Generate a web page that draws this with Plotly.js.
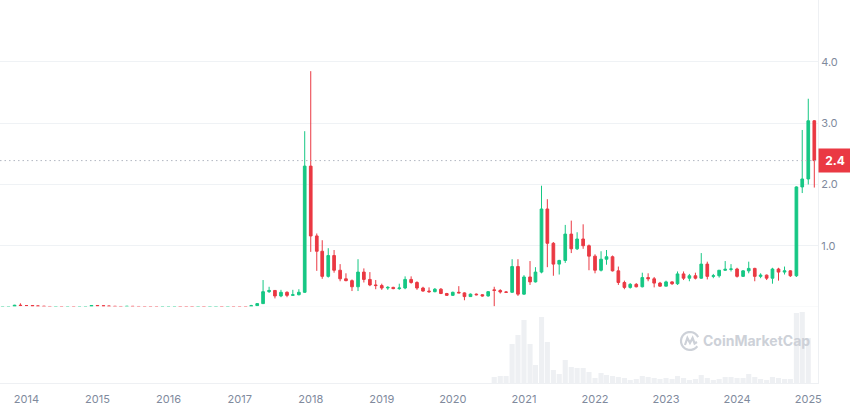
<!DOCTYPE html>
<html><head><meta charset="utf-8">
<script src="https://cdn.plot.ly/plotly-3.0.1.min.js"></script>
<style>html,body{margin:0;padding:0;background:#fff}#chart{width:850px;height:417px}</style>
</head><body><div id="chart"></div>
<script>
// Monthly candles (XRP / USD), CoinMarketCap style
const months = [
 '2013-08','2013-09','2013-10','2013-11','2013-12',
 '2014-01','2014-02','2014-03','2014-04','2014-05','2014-06','2014-07','2014-08','2014-09','2014-10','2014-11','2014-12',
 '2015-01','2015-02','2015-03','2015-04','2015-05','2015-06','2015-07','2015-08','2015-09','2015-10','2015-11','2015-12',
 '2016-01','2016-02','2016-03','2016-04','2016-05','2016-06','2016-07','2016-08','2016-09','2016-10','2016-11','2016-12',
 '2017-01','2017-02','2017-03','2017-04','2017-05','2017-06','2017-07','2017-08','2017-09','2017-10','2017-11','2017-12',
 '2018-01','2018-02','2018-03','2018-04','2018-05','2018-06','2018-07','2018-08','2018-09','2018-10','2018-11','2018-12',
 '2019-01','2019-02','2019-03','2019-04','2019-05','2019-06','2019-07','2019-08','2019-09','2019-10','2019-11','2019-12',
 '2020-01','2020-02','2020-03','2020-04','2020-05','2020-06','2020-07','2020-08','2020-09','2020-10','2020-11','2020-12',
 '2021-01','2021-02','2021-03','2021-04','2021-05','2021-06','2021-07','2021-08','2021-09','2021-10','2021-11','2021-12',
 '2022-01','2022-02','2022-03','2022-04','2022-05','2022-06','2022-07','2022-08','2022-09','2022-10','2022-11','2022-12',
 '2023-01','2023-02','2023-03','2023-04','2023-05','2023-06','2023-07','2023-08','2023-09','2023-10','2023-11','2023-12',
 '2024-01','2024-02','2024-03','2024-04','2024-05','2024-06','2024-07','2024-08','2024-09','2024-10','2024-11','2024-12',
 '2025-01','2025-02'
];
const open = [
 .0056,.0054,.0055,.0070,.0290,
 .0240,.0230,.0170,.0130,.0085,.0055,.0065,.0050,.0052,.0045,.0050,.0070,
 .0245,.0185,.0150,.0110,.0085,.0080,.0105,.0085,.0072,.0068,.0050,.0044,
 .0060,.0062,.0080,.0070,.0066,.0060,.0062,.0058,.0062,.0080,.0072,.0076,
 .0065,.0063,.0058,.0213,.0550,.2500,.2700,.1800,.2400,.1900,.2000,.2400,
 2.30,1.16,.91,.50,.84,.60,.46,.43,.33,.57,.45,.36,
 .35,.31,.32,.30,.31,.45,.40,.31,.26,.25,.29,.22,
 .19,.24,.23,.17,.21,.20,.18,.28,.27,.245,.24,.66,
 .21,.49,.41,.57,1.60,1.04,.70,.76,1.19,.95,1.11,1.00,
 .83,.60,.78,.82,.59,.40,.32,.37,.33,.48,.46,.39,
 .34,.41,.38,.54,.47,.51,.47,.70,.50,.51,.60,.615,
 .62,.50,.59,.63,.50,.52,.47,.62,.57,.59,.51,1.96,
 2.09,3.04
];
const high = [
 .0066,.0062,.0080,.0350,.0600,
 .0280,.0250,.0180,.0140,.0090,.0070,.0070,.0058,.0056,.0052,.0072,.0290,
 .0280,.0190,.0155,.0115,.0100,.0125,.0108,.0090,.0080,.0070,.0052,.0065,
 .0068,.0092,.0092,.0076,.0068,.0066,.0064,.0064,.0090,.0085,.0090,.0080,
 .0070,.0066,.0350,.0600,.4400,.3300,.2750,.2800,.2550,.2800,.2900,2.87,
 3.85,1.20,1.09,.96,.93,.70,.55,.45,.78,.63,.57,.44,
 .38,.34,.33,.38,.50,.50,.42,.33,.32,.31,.31,.23,
 .25,.34,.24,.22,.22,.21,.26,.33,.29,.26,.78,.78,
 .52,.75,.65,1.98,1.76,1.06,.77,1.34,1.41,1.22,1.35,1.02,
 .86,.91,.93,.84,.66,.43,.39,.39,.56,.55,.49,.41,
 .43,.42,.58,.58,.54,.56,.88,.74,.54,.60,.75,.70,
 .64,.60,.74,.64,.55,.53,.64,.64,.66,.60,1.97,2.89,
 3.40,3.05
];
const low = [
 .0045,.0048,.0050,.0065,.0140,
 .0200,.0150,.0120,.0070,.0045,.0050,.0048,.0046,.0043,.0041,.0048,.0068,
 .0160,.0130,.0100,.0080,.0075,.0078,.0080,.0070,.0066,.0045,.0036,.0042,
 .0054,.0060,.0068,.0062,.0056,.0054,.0056,.0055,.0060,.0068,.0070,.0062,
 .0060,.0055,.0050,.0190,.0500,.2300,.1400,.1600,.1600,.1800,.1900,.2300,
 .90,.59,.46,.48,.56,.42,.42,.26,.26,.40,.34,.29,
 .28,.28,.29,.28,.29,.38,.28,.25,.23,.24,.21,.18,
 .18,.23,.11,.17,.19,.17,.17,.01,.22,.23,.23,.18,
 .20,.36,.40,.55,.65,.51,.53,.72,.88,.93,.95,.60,
 .55,.58,.69,.58,.36,.29,.30,.32,.32,.42,.32,.33,
 .34,.36,.36,.44,.42,.45,.46,.45,.47,.48,.59,.58,
 .48,.49,.55,.42,.47,.44,.38,.43,.53,.49,.49,1.86,
 2.00,1.95
];
const close = [
 .0054,.0055,.0070,.0290,.0240,
 .0230,.0170,.0130,.0085,.0055,.0065,.0050,.0052,.0045,.0050,.0070,.0245,
 .0185,.0150,.0110,.0085,.0080,.0105,.0085,.0072,.0068,.0050,.0044,.0060,
 .0062,.0080,.0070,.0066,.0060,.0062,.0058,.0062,.0080,.0072,.0076,.0065,
 .0063,.0058,.0213,.0550,.2500,.2700,.1800,.2400,.1900,.2000,.2400,2.30,
 1.16,.91,.50,.84,.60,.46,.43,.33,.57,.45,.36,.35,
 .31,.32,.30,.31,.45,.40,.31,.26,.25,.29,.22,.19,
 .24,.23,.17,.21,.20,.18,.25,.27,.245,.24,.66,.21,
 .49,.41,.57,1.60,1.04,.70,.76,1.19,.95,1.11,1.00,.83,
 .60,.78,.82,.59,.40,.32,.37,.33,.48,.46,.39,.34,
 .41,.38,.54,.47,.51,.47,.70,.50,.51,.60,.615,.62,
 .50,.59,.63,.50,.52,.47,.62,.57,.59,.51,1.96,2.09,
 3.04,2.39
];
// Monthly volume (USD billions, approx.) shown from Aug 2020
const volMonths = [
 '2020-08','2020-09','2020-10','2020-11','2020-12',
 '2021-01','2021-02','2021-03','2021-04','2021-05','2021-06','2021-07','2021-08','2021-09','2021-10','2021-11','2021-12',
 '2022-01','2022-02','2022-03','2022-04','2022-05','2022-06','2022-07','2022-08','2022-09','2022-10','2022-11','2022-12',
 '2023-01','2023-02','2023-03','2023-04','2023-05','2023-06','2023-07','2023-08','2023-09','2023-10','2023-11','2023-12',
 '2024-01','2024-02','2024-03','2024-04','2024-05','2024-06','2024-07','2024-08','2024-09','2024-10','2024-11','2024-12',
 '2025-01'
];
const volume = [
 30,35,35,195,240,
 315,195,90,330,205,65,45,115,80,75,75,55,
 25,50,40,35,30,25,15,20,35,30,25,20,
 25,20,35,25,15,20,40,25,15,20,30,30,
 25,25,45,30,20,15,30,25,20,20,350,355,
 225
];
const yearTicks = ['2014','2015','2016','2017','2018','2019','2020','2021','2022','2023','2024','2025'];
const priceTicks = [0,1,2,3,4];
const priceTickText = ['','1.0','2.0','3.0','4.0'];

const GREEN = '#16c784', RED = '#ea3943';
const lastClose = close[close.length - 1];

const traces = [
  {type:'bar', x: volMonths.map(m => m + '-01'), y: volume, xaxis:'x', yaxis:'y2',
   marker:{color:'#eef0f3', line:{width:0}}, hoverinfo:'skip'},
  {type:'candlestick', x: months.map(m => m + '-01'), open, high, low, close,
   xaxis:'x', yaxis:'y',
   increasing:{line:{color:GREEN, width:1}, fillcolor:GREEN},
   decreasing:{line:{color:RED, width:1}, fillcolor:RED},
   whiskerwidth:0, hoverinfo:'skip'}
];

// CoinMarketCap logo outline (pixel path)
let logo = '';
for (let a = 25; a <= 330; a += 15) {
  const r = a * Math.PI / 180;
  logo += (a === 25 ? 'M' : 'L') + (9 * Math.cos(r)).toFixed(2) + ',' + (9 * Math.sin(r)).toFixed(2) + ' ';
}
logo += 'M-5,-4 L-2.6,3 L0,-2 L2.6,3 L4.6,-2.5 L7,-1';

const layout = {
  width:850, height:417,
  margin:{l:0, r:32, t:0, b:34},
  paper_bgcolor:'#ffffff', plot_bgcolor:'#ffffff',
  showlegend:false, bargap:0.06,
  font:{family:'Inter, "Noto Sans", sans-serif', color:'#808a9d'},
  xaxis:{type:'date', range:['2013-08-18','2025-02-20'],
    tickvals: yearTicks.map(y => y + '-01-01'), ticktext: yearTicks,
    showgrid:false, zeroline:false, showline:true, linecolor:'#eef0f3', linewidth:1,
    ticks:'outside', ticklen:6, tickcolor:'rgba(0,0,0,0)',
    tickfont:{size:11, color:'#808a9d'},
    rangeslider:{visible:false}, fixedrange:true},
  yaxis:{side:'right', domain:[0,1], range:[-1.241, 5.012],
    tickvals: priceTicks, ticktext: priceTickText,
    showgrid:true, gridcolor:'#eff2f5', gridwidth:1, zeroline:false,
    showline:true, linecolor:'#eef0f3', linewidth:1,
    ticks:'', tickfont:{size:11, color:'#808a9d'}, fixedrange:true},
  yaxis2:{domain:[0,0.2], range:[0,383], visible:false, anchor:'x', fixedrange:true},
  shapes:[
    {type:'line', xref:'paper', x0:0, x1:1, yref:'y', y0:lastClose, y1:lastClose,
     line:{color:'#b1b7c2', width:1, dash:'1.5px,3px'}},
    {type:'path', xref:'paper', yref:'paper', xsizemode:'pixel', ysizemode:'pixel',
     xanchor:0.8435, yanchor:0.1097, path: logo,
     line:{color:'#cdd1d8', width:2.2}, fillcolor:'rgba(0,0,0,0)'}
  ],
  annotations:[
    {xref:'paper', x:1, xanchor:'left', yref:'y', y:lastClose, yanchor:'middle',
     text:'<b>' + lastClose.toFixed(1) + '</b>', showarrow:false,
     bgcolor:RED, font:{color:'#ffffff', size:12}, width:28, height:19, borderpad:2},
    {xref:'paper', x:0.9248, xanchor:'center', yref:'paper', y:0.1097, yanchor:'middle',
     text:'<b>CoinMarketCap</b>', showarrow:false,
     font:{color:'#cdd1d8', size:14}}
  ]
};

Plotly.newPlot('chart', traces, layout, {staticPlot:true, displayModeBar:false});
</script>
</body></html>
